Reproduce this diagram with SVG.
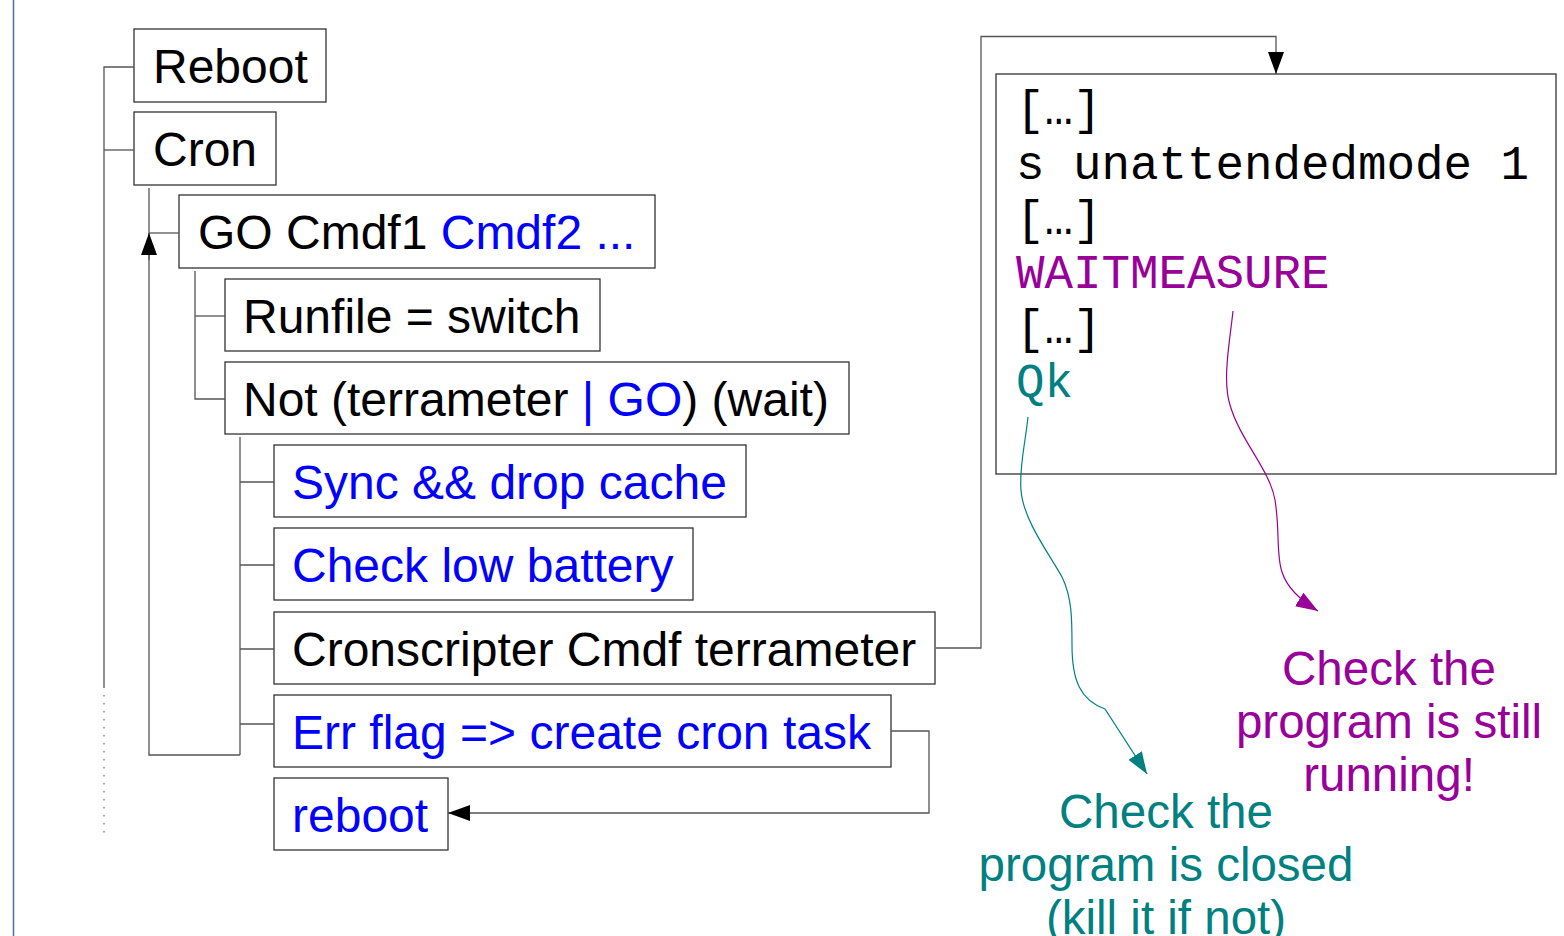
<svg xmlns="http://www.w3.org/2000/svg" width="1564" height="936" viewBox="0 0 1564 936">
<style>
.box{fill:#fff;stroke:#333;stroke-width:1.3}
.t{font-family:"Liberation Sans",Arial,sans-serif;font-size:48px;fill:#000}
.b{fill:#0000ff}
.c{fill:none;stroke:#555;stroke-width:1.3}
.code{font-family:"Liberation Mono","Courier New",monospace;font-size:47.5px;fill:#000}
.pu{fill:#990099}
.te{fill:#008080}
.note{font-family:"Liberation Sans",Arial,sans-serif;font-size:47.5px;text-anchor:middle}
</style>
<defs>
<marker id="ab" markerUnits="userSpaceOnUse" markerWidth="24" markerHeight="16" refX="22" refY="8" orient="auto"><path d="M0,0 L22,8 L0,16 z" fill="#000"/></marker>
<marker id="ap" markerUnits="userSpaceOnUse" markerWidth="24" markerHeight="16" refX="22" refY="8" orient="auto"><path d="M0,0 L22,8 L0,16 z" fill="#990099"/></marker>
<marker id="at" markerUnits="userSpaceOnUse" markerWidth="24" markerHeight="16" refX="22" refY="8" orient="auto"><path d="M0,0 L22,8 L0,16 z" fill="#008080"/></marker>
</defs>
<line x1="13.5" y1="0" x2="13.5" y2="936" stroke="#4a6fa5" stroke-width="1.5"/>
<g id="n-reboot"><rect class="box" x="134" y="29" width="192" height="73"/><text class="t" x="153" y="83">Reboot</text></g>
<g id="n-cron"><rect class="box" x="134" y="112" width="142" height="73"/><text class="t" x="153" y="166">Cron</text></g>
<g id="n-go"><rect class="box" x="179" y="195" width="476" height="73"/><text class="t" x="198" y="249">GO Cmdf1 <tspan class="b">Cmdf2 ...</tspan></text></g>
<g id="n-runfile"><rect class="box" x="225" y="279" width="375" height="72"/><text class="t" x="243" y="333">Runfile = switch</text></g>
<g id="n-not"><rect class="box" x="225" y="362" width="624" height="72"/><text class="t" x="243" y="416">Not (terrameter <tspan class="b">| GO</tspan>) (wait)</text></g>
<g id="n-sync"><rect class="box" x="274" y="445" width="472" height="72"/><text class="t b" x="292" y="499">Sync &amp;&amp; drop cache</text></g>
<g id="n-battery"><rect class="box" x="274" y="528" width="419" height="72"/><text class="t b" x="292" y="582">Check low battery</text></g>
<g id="n-cronscripter"><rect class="box" x="274" y="612" width="661" height="72"/><text class="t" x="292" y="666">Cronscripter Cmdf terrameter</text></g>
<g id="n-errflag"><rect class="box" x="274" y="695" width="617" height="72"/><text class="t b" x="292" y="749">Err flag =&gt; create cron task</text></g>
<g id="n-reboot2"><rect class="box" x="274" y="778" width="174" height="72"/><text class="t b" x="292" y="832">reboot</text></g>
<g id="n-code"><rect class="box" x="996" y="74" width="560" height="400"/>
<text class="code" x="1016" y="124">[…]</text>
<text class="code" x="1016" y="179">s unattendedmode 1</text>
<text class="code" x="1016" y="234">[…]</text>
<text class="code pu" x="1016" y="288">WAITMEASURE</text>
<text class="code" x="1016" y="343">[…]</text>
<text class="code te" x="1016" y="397">Qk</text>
</g>
<g id="n-running"><text class="note pu" x="1389"><tspan x="1389" y="685">Check the</tspan><tspan x="1389" y="738">program is still</tspan><tspan x="1389" y="791">running!</tspan></text></g>
<g id="n-closed"><text class="note te" x="1166"><tspan x="1166" y="828">Check the</tspan><tspan x="1166" y="881">program is closed</tspan><tspan x="1166" y="934">(kill it if not)</tspan></text></g>
<g id="connectors">
<path class="c" d="M134,67 H104 V688"/>
<path class="c" d="M104,150 H134"/>
<line x1="104" y1="695" x2="104" y2="836" stroke="#777" stroke-width="1.3" stroke-dasharray="1.5,6.5"/>
<path class="c" d="M149,188 V755 H240"/>
<path class="c" d="M179,233 H149"/>
<path class="c" d="M149,260 V233" marker-end="url(#ab)"/>
<path class="c" d="M195,271 V399 H225"/>
<path class="c" d="M195,316 H225"/>
<path class="c" d="M240,437 V755"/>
<path class="c" d="M240,482 H274"/>
<path class="c" d="M240,565 H274"/>
<path class="c" d="M240,649 H274"/>
<path class="c" d="M240,724 H274"/>
<path class="c" d="M891,731 H929 V813 H448" marker-end="url(#ab)"/>
<path class="c" d="M936,648 H981 V36.5 H1276 V74" marker-end="url(#ab)"/>
<path fill="none" stroke="#008080" stroke-width="1.2" d="M1028,417 C1025,445 1019,468 1021,490 C1023,520 1050,555 1062,577 C1072,597 1072,620 1072,645 C1072,680 1080,700 1105,709 L1147,774" marker-end="url(#at)"/>
<path fill="none" stroke="#990099" stroke-width="1.2" d="M1233,311 C1230,340 1222,380 1230,405 C1240,440 1270,470 1275,500 C1280,530 1276,555 1282,572 C1287,588 1300,600 1318,611" marker-end="url(#ap)"/>
</g>
</svg>
